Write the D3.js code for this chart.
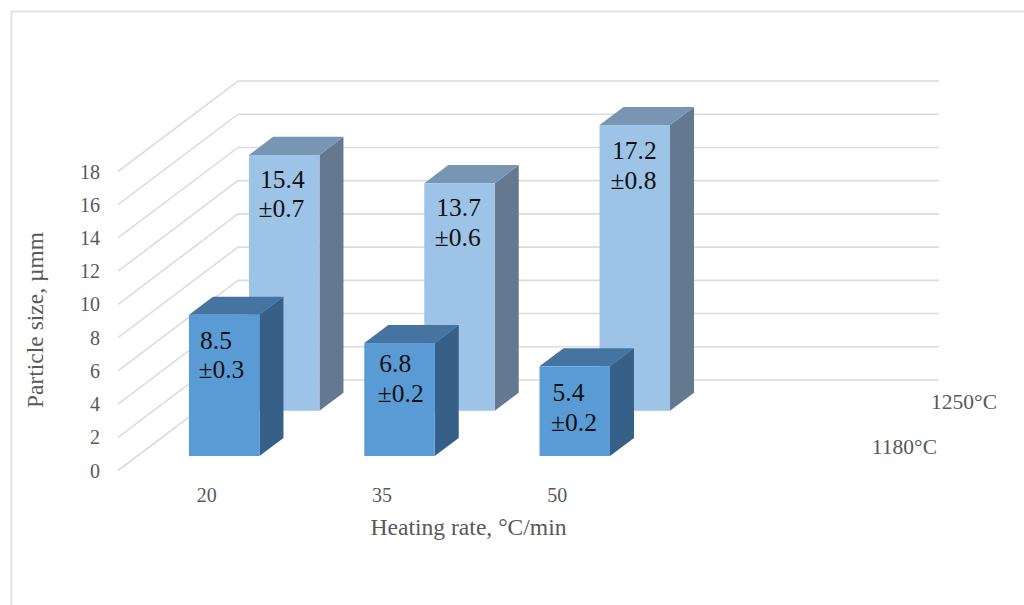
<!DOCTYPE html>
<html>
<head>
<meta charset="utf-8">
<script src="https://cdn.jsdelivr.net/npm/d3@7/dist/d3.min.js"></script>
<style>
  html, body { margin: 0; padding: 0; background: #fff; }
  svg { display: block; }
  text { font-family: "Liberation Serif", serif; }
</style>
</head>
<body>
<svg id="chart" width="1024" height="605"></svg>
<script>
// Particle size by heating rate, for two sintering temperatures
const heatingRates = ["20", "35", "50"];
const temperatures = ["1180°C", "1250°C"];
const size1180 = [8.5, 6.8, 5.4];
const size1250 = [15.4, 13.7, 17.2];
const error1180 = [0.3, 0.2, 0.2];
const error1250 = [0.7, 0.6, 0.8];
const yTicks = [0, 2, 4, 6, 8, 10, 12, 14, 16, 18];

const svg = d3.select("#chart");

// Oblique projection: z runs from the front of the floor (0) to the back wall (1)
const zToX = d3.scaleLinear().domain([0, 1]).range([0, 120]);
const zToY = d3.scaleLinear().domain([0, 1]).range([0, -90.5]);
const y = d3.scaleLinear().domain([0, 18]).range([470.5, 171.5]);
const x = d3.scaleBand().domain(heatingRates).range([169.8, 590.8]).paddingInner(0.598).paddingOuter(0);

const FLOOR_X0 = 118, FLOOR_X1 = 819;
const BAR_DEPTH = 0.2;

// Outer frame of the chart area
svg.append("path")
  .attr("d", d3.line()([[11.5, 605], [11.5, 11.5], [1024, 11.5]]))
  .attr("fill", "none").attr("stroke", "#e2e2e2").attr("stroke-width", 2);

// Gridlines: one diagonal across the side wall, then along the back wall
const grid = svg.append("g").attr("fill", "none").attr("stroke", "#dcdcdc").attr("stroke-width", 1.6);
grid.selectAll("path").data(yTicks).join("path")
  .attr("d", t => d3.line()([
    [FLOOR_X0, y(t)],
    [FLOOR_X0 + zToX(1), y(t) + zToY(1)],
    [FLOOR_X1 + zToX(1), y(t) + zToY(1)]
  ]));

// Value axis
const yAxis = d3.axisLeft(y).tickValues(yTicks).tickSize(0).tickPadding(0);
const axisG = svg.append("g").attr("transform", "translate(100,0)").call(yAxis);
axisG.select(".domain").remove();
axisG.selectAll("text")
  .attr("dy", "0.33em")
  .style("font-family", '"Liberation Serif", serif')
  .style("font-size", "20px").attr("fill", "#595959");

// Series are listed back to front so the nearer bars paint over the farther ones
const series = [
  {
    z: 0.66, values: size1250, errors: error1250,
    face: "#9dc3e6", top: "#7895b3", side: "#64788f",
    nudgeX: [11, 12, 12.5], nudgeY: [33, 33, 34]
  },
  {
    z: 0.16, values: size1180, errors: error1180,
    face: "#5b9bd5", top: "#44749f", side: "#376088",
    nudgeX: [11, 15, 13], nudgeY: [34, 29, 35]
  }
];

series.forEach(s => {
  const g = svg.append("g");
  const dx = zToX(s.z), dy = zToY(s.z);
  const ox = zToX(BAR_DEPTH), oy = zToY(BAR_DEPTH);
  const bw = x.bandwidth();
  const rows = heatingRates.map((c, i) => ({
    left: x(c) + dx,
    right: x(c) + dx + bw,
    base: y(0) + dy,
    top: y(s.values[i]) + dy,
    value: s.values[i],
    error: s.errors[i],
    nx: s.nudgeX[i],
    ny: s.nudgeY[i]
  }));
  const polygon = d3.line();

  g.selectAll(".side").data(rows).join("path").attr("class", "side").attr("fill", s.side)
    .attr("d", d => polygon([[d.right, d.base], [d.right + ox, d.base + oy], [d.right + ox, d.top + oy], [d.right, d.top]]) + "Z");
  g.selectAll(".top").data(rows).join("path").attr("class", "top").attr("fill", s.top)
    .attr("d", d => polygon([[d.left, d.top], [d.left + ox, d.top + oy], [d.right + ox, d.top + oy], [d.right, d.top]]) + "Z");
  g.selectAll(".face").data(rows).join("rect").attr("class", "face").attr("fill", s.face)
    .attr("x", d => d.left).attr("y", d => d.top)
    .attr("width", bw).attr("height", d => d.base - d.top);

  // Mean and spread written on the front of each bar
  const label = g.selectAll(".label").data(rows).join("g").attr("class", "label")
    .attr("fill", "#111").style("font-size", "25.5px");
  label.append("text").attr("x", d => d.left + d.nx).attr("y", d => d.top + d.ny)
    .text(d => d.value.toFixed(1));
  label.append("text").attr("x", d => d.left + d.nx - 1.5).attr("y", d => d.top + d.ny + 29.5)
    .text(d => "±" + d.error.toFixed(1));
});

// Category labels beneath the front row
svg.append("g").selectAll("text").data(heatingRates).join("text")
  .attr("x", c => x(c) + 37).attr("y", 502)
  .attr("text-anchor", "middle").attr("fill", "#595959").style("font-size", "20px")
  .text(c => c);

// Series labels on the depth axis
const seriesLabelPos = [[937, 454], [997, 409]];
svg.append("g").selectAll("text").data(temperatures).join("text")
  .attr("x", (d, i) => seriesLabelPos[i][0]).attr("y", (d, i) => seriesLabelPos[i][1])
  .attr("text-anchor", "end").attr("fill", "#595959").style("font-size", "21.5px")
  .text(d => d);

// Axis titles
svg.append("text").attr("x", 468.5).attr("y", 535).attr("text-anchor", "middle")
  .attr("fill", "#595959").style("font-size", "23.6px").text("Heating rate, °C/min");
svg.append("text").attr("transform", "translate(43,320) rotate(-90)").attr("text-anchor", "middle")
  .attr("fill", "#595959").style("font-size", "23.5px").text("Particle size, µmm");
</script>
</body>
</html>
